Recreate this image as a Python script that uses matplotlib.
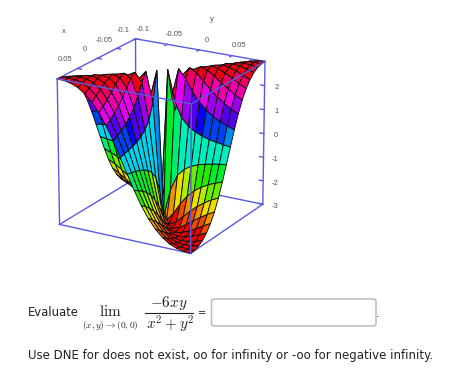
import numpy as np
import matplotlib
matplotlib.use("Agg")
import matplotlib.pyplot as plt
from matplotlib.patches import FancyBboxPatch

plt.rcParams['mathtext.fontset'] = 'cm'

# surface heights read for one quadrant, the others are mirrored from it
quadrant = [
    [3.00, 1.80, 1.15, 0.84, 0.66, 0.54, 0.46, 0.40, 0.35, 0.31],
    [1.80, 3.00, 2.65, 2.17, 1.80, 1.52, 1.31, 1.15, 1.03, 0.92],
    [1.15, 2.65, 3.00, 2.84, 2.55, 2.26, 2.01, 1.80, 1.62, 1.48],
    [0.84, 2.17, 2.84, 3.00, 2.91, 2.72, 2.50, 2.30, 2.11, 1.95],
    [0.66, 1.80, 2.55, 2.91, 3.00, 2.94, 2.81, 2.65, 2.48, 2.32],
    [0.54, 1.52, 2.26, 2.72, 2.94, 3.00, 2.96, 2.86, 2.74, 2.60],
    [0.46, 1.31, 2.01, 2.50, 2.81, 2.96, 3.00, 2.97, 2.90, 2.80],
    [0.40, 1.15, 1.80, 2.30, 2.65, 2.86, 2.97, 3.00, 2.98, 2.92],
    [0.35, 1.03, 1.62, 2.11, 2.48, 2.74, 2.90, 2.98, 3.00, 2.98],
    [0.31, 0.92, 1.48, 1.95, 2.32, 2.60, 2.80, 2.92, 2.98, 3.00],
]
x_values = np.linspace(-0.1, 0.1, 20)
y_values = np.linspace(-0.1, 0.1, 20)
x_ticks = [-0.1, -0.05, 0, 0.05]
y_ticks = [-0.1, -0.05, 0, 0.05]
z_ticks = [-3, -2, -1, 0, 1, 2]

q = np.array(quadrant)
top = np.hstack([-q[::-1, ::-1], q[::-1]])
bot = np.hstack([q[:, ::-1], -q])
Z = np.vstack([top, bot])
X, Y = np.meshgrid(x_values, y_values, indexing='ij')

blue = '#5a5ae0'
grey = '#555555'

fig = plt.figure(figsize=(4.74, 3.75), dpi=100)
ax = fig.add_axes([-0.0455, 0.244, 0.76, 0.73], projection='3d', computed_zorder=False)
ax.set_box_aspect((1, 1, 1.02), zoom=0.93)
ax.view_init(elev=20, azim=30)
ax.set_proj_type('persp', focal_length=1.6)
ax.set_xlim(-0.1, 0.1)
ax.set_ylim(-0.1, 0.1)
ax.set_zlim(-3, 3)
ax.set_axis_off()
ax.patch.set_alpha(0)

lo, hi = -0.1, 0.1
zb, zt = -3, 3
def edge(p, q, zo):
    ax.plot([p[0], q[0]], [p[1], q[1]], [p[2], q[2]], color=blue, lw=1, zorder=zo)

# back edges go under the surface, front edges over it
edge((lo, lo, zb), (hi, lo, zb), 1)
edge((lo, lo, zb), (lo, hi, zb), 1)
edge((lo, lo, zb), (lo, lo, zt), 1)
edge((hi, lo, zb), (hi, hi, zb), 1)
edge((lo, hi, zb), (hi, hi, zb), 1)
edge((lo, lo, zt), (hi, lo, zt), 1)
edge((lo, lo, zt), (lo, hi, zt), 1)
edge((hi, lo, zb), (hi, lo, zt), 1)
edge((lo, hi, zb), (lo, hi, zt), 1)
edge((hi, hi, zb), (hi, hi, zt), 3)
edge((hi, lo, zt), (hi, hi, zt), 3)
edge((lo, hi, zt), (hi, hi, zt), 3)

# lean on one corner so the two walls by the slit come out blue and green
cell = 0.2 * Z[:-1, :-1] + 0.4 * Z[1:, :-1] + 0.2 * Z[:-1, 1:] + 0.2 * Z[1:, 1:]
cell_colors = plt.cm.hsv.resampled(20)((cell + 3) / 6)
cell_colors[:, :, :3] *= 0.93
colors = np.ones(Z.shape + (4,))
colors[:-1, :-1] = cell_colors
colors[9, 9, 3] = 0
ax.plot_surface(X, Y, Z, rstride=1, cstride=1, facecolors=colors, edgecolor='#111111',
                linewidth=0.65, shade=False, zorder=2)

# ticks and tick labels
tf = dict(fontsize=5.5, color=grey, ha='center', va='center', family='Liberation Sans')
for v in x_ticks:
    edge((v, lo, zt), (v, lo + 0.006, zt), 1)
    ax.text(v, lo - 0.02, zt + 0.25, str(v), **tf)
for v in y_ticks:
    edge((lo, v, zt), (lo + 0.006, v, zt), 1)
    ax.text(lo - 0.02, v, zt + 0.25, str(v), **tf)
for v in z_ticks:
    edge((lo, hi, v), (lo, hi - 0.006, v), 1)
    ax.text(lo, hi + 0.018, v, str(v), **tf)
ax.text(0.05, lo - 0.02, zt + 1.42, 'x', **tf)
ax.text(lo - 0.02, 0.008, zt + 1.15, 'y', **tf)

def px_text(x, y, s, **kw):
    fig.text(x / 474, 1 - y / 375, s, va='center', **kw)

px_text(28, 313, 'Evaluate', fontsize=8.4, color='#222222', ha='left')
px_text(110, 312, r'$\lim$', fontsize=11, color='#222222', ha='center')
px_text(110, 326, r'$(x,y)\to(0,0)$', fontsize=6.8, color='#222222', ha='center')
px_text(169, 303, r'$-6xy$', fontsize=11, color='#222222', ha='center')
px_text(170, 324, r'$x^2+y^2$', fontsize=11, color='#222222', ha='center')
fig.add_artist(plt.Line2D([145 / 474, 193 / 474], [1 - 313 / 375] * 2, color='#222222', lw=0.8))
px_text(202, 313, '=', fontsize=7, color='#222222', ha='center')
px_text(378, 314, '.', fontsize=8, color='#222222', ha='center')
px_text(28, 356, 'Use DNE for does not exist, oo for infinity or -oo for negative infinity.',
        fontsize=8.47, color='#222222', ha='left')
box = FancyBboxPatch((211.5 / 474, 1 - 326 / 375), 164.5 / 474, 27 / 375,
                     boxstyle='round,pad=0,rounding_size=0.006', transform=fig.transFigure,
                     facecolor='white', edgecolor='#bbbbbb', lw=1.1)
fig.add_artist(box)

fig.savefig('out.png', dpi=100)
